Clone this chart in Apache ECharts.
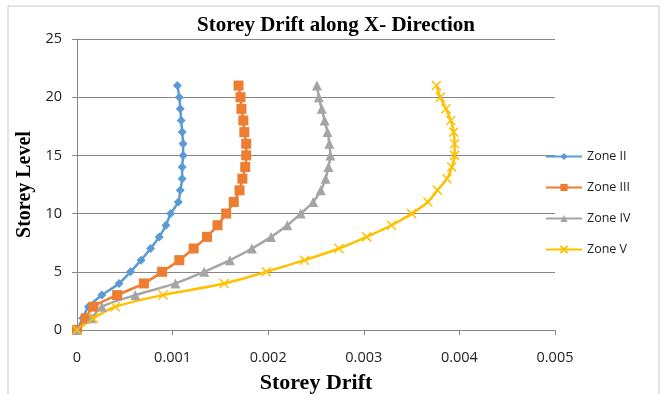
<!DOCTYPE html>
<html><head><meta charset="utf-8">
<script src="https://cdn.jsdelivr.net/npm/echarts@6/dist/echarts.min.js"></script>
<style>html,body{margin:0;padding:0;background:#fff}#c{width:662px;height:394px}</style>
</head><body><div id="c"></div>
<script>
const levels = [0,1,2,3,4,5,6,7,8,9,10,11,12,13,14,15,16,17,18,19,20,21];
const zoneII  = [0,0.00006,0.00012,0.00026,0.00044,0.00056,0.00067,0.00077,0.00086,0.00093,0.00098,0.00106,0.00108,0.00110,0.00110,0.00111,0.00111,0.00110,0.00109,0.00108,0.00107,0.00105];
const zoneIII = [0,0.00009,0.00017,0.00042,0.00070,0.00089,0.00107,0.00122,0.00136,0.00147,0.00156,0.00164,0.00170,0.00173,0.00176,0.00177,0.00177,0.00175,0.00174,0.00172,0.00171,0.00169];
const zoneIV  = [0,0.00015,0.00026,0.00061,0.00103,0.00133,0.00160,0.00183,0.00203,0.00220,0.00234,0.00247,0.00255,0.00260,0.00263,0.00265,0.00264,0.00262,0.00259,0.00256,0.00253,0.00251];
const zoneV   = [0,0.00017,0.00040,0.00090,0.00154,0.00198,0.00238,0.00274,0.00303,0.00329,0.00350,0.00367,0.00377,0.00387,0.00392,0.00395,0.00395,0.00394,0.00391,0.00386,0.00380,0.00376];
const seriesNames = ['Zone II','Zone III','Zone IV','Zone V'];
const xTicks = [0,0.001,0.002,0.003,0.004,0.005];
const yTicks = [0,5,10,15,20,25];

const chart = echarts.init(document.getElementById('c'));
const pairs = vals => vals.map((v,i)=>[v, levels[i]]);
const colors = ['#5B9BD5','#ED7D31','#A5A5A5','#FFC000'];
const symbols = ['diamond','rect','triangle','path://M0,0 L10,10 M10,0 L0,10'];
const sizes = [9,10,10,9];
const all = [zoneII, zoneIII, zoneIV, zoneV];
chart.setOption({
  animation:false,
  backgroundColor:'#fff',
  graphic:[{type:'rect',shape:{x:8,y:6,width:651,height:395},style:{fill:'none',stroke:'#c8c8c8',lineWidth:1},silent:true}],
  title:{text:'Storey Drift along X- Direction',left:331,top:10,textAlign:'center',
    textStyle:{fontFamily:'Liberation Serif',fontWeight:'bold',fontSize:21,color:'#000'}},
  legend:{orient:'vertical',left:540,top:145,itemGap:18,itemWidth:36,itemHeight:9,
    textStyle:{fontFamily:'Open Sans',fontSize:12.5,color:'#222'},
    data:seriesNames},
  grid:{left:77,right:107,top:39,bottom:64,containLabel:false,outerBoundsMode:'none'},
  xAxis:{type:'value',min:0,max:0.005,interval:0.001,
    name:'Storey Drift',nameLocation:'middle',nameGap:42,
    nameTextStyle:{fontFamily:'Liberation Serif',fontWeight:'bold',fontSize:22,color:'#000'},
    axisLine:{lineStyle:{color:'#868686'}},axisTick:{show:true,length:5,lineStyle:{color:'#868686'}},
    splitLine:{show:false},
    axisLabel:{fontFamily:'Open Sans',fontSize:14.5,color:'#222',margin:20,
      formatter:v=>{const t=xTicks.find(x=>Math.abs(x-v)<1e-9);return String(t!==undefined?t:v);}}},
  yAxis:{type:'value',min:0,max:25,interval:5,
    name:'Storey Level',nameLocation:'middle',nameGap:42,nameRotate:90,
    nameTextStyle:{fontFamily:'Liberation Serif',fontWeight:'bold',fontSize:20,color:'#000'},
    axisLine:{show:true,lineStyle:{color:'#868686'}},axisTick:{show:true,length:5,lineStyle:{color:'#868686'}},
    splitLine:{lineStyle:{color:'#868686'}},
    axisLabel:{fontFamily:'Open Sans',fontSize:14.5,color:'#222',margin:15,
      formatter:v=>String(yTicks.find(y=>y===v)??v)}},
  series: all.map((vals,i)=>({
    name:seriesNames[i],type:'line',data:pairs(vals),smooth:0.3,
    symbol:symbols[i],symbolSize:sizes[i],showSymbol:true,
    lineStyle:{color:colors[i],width:2.5},
    itemStyle:{color:colors[i],borderColor:colors[i],borderWidth:i===3?1.5:0}
  }))
});
</script></body></html>
